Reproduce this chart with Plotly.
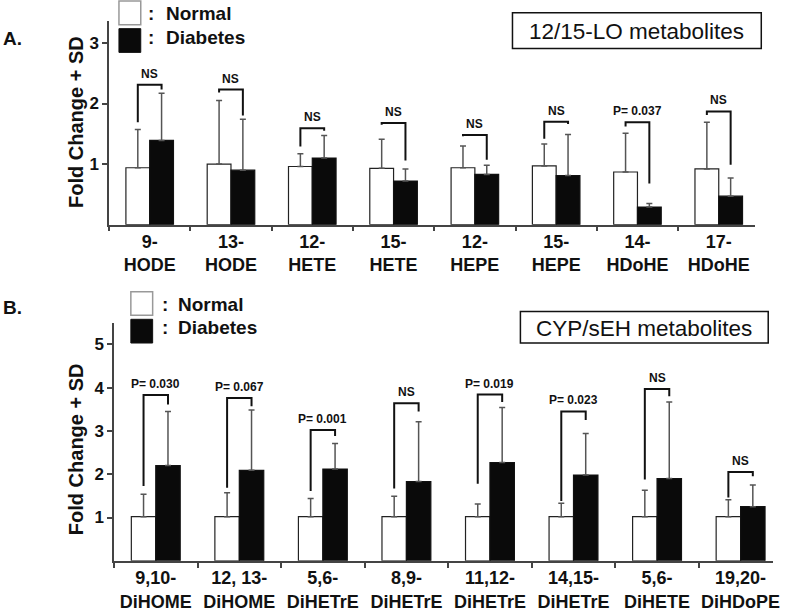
import plotly.graph_objects as go

# ---------------- data ----------------
cats_A = ["9-<br>HODE", "13-<br>HODE", "12-<br>HETE", "15-<br>HETE",
          "12-<br>HEPE", "15-<br>HEPE", "14-<br>HDoHE", "17-<br>HDoHE"]
normal_A = [0.94, 1.00, 0.96, 0.93, 0.94, 0.97, 0.87, 0.92]
normal_A_top = [1.57, 2.05, 1.17, 1.41, 1.30, 1.33, 1.51, 1.69]
diab_A = [1.39, 0.90, 1.10, 0.72, 0.83, 0.81, 0.29, 0.47]
diab_A_top = [2.17, 1.74, 1.47, 0.92, 0.98, 1.49, 0.35, 0.77]
brk_A_top = [2.31, 2.23, 1.59, 1.68, 1.48, 1.70, 1.69, 1.87]
brk_A_left = [1.69, 2.18, 1.29, 1.65, 1.46, 1.42, 1.62, 1.81]
brk_A_right = [2.23, 1.80, 1.55, 1.06, 1.07, 1.66, 0.68, 0.99]
sig_A = ["NS", "NS", "NS", "NS", "NS", "NS", "P= 0.037", "NS"]

cats_B = ["9,10-<br>DiHOME", "12, 13-<br>DiHOME", "5,6-<br>DiHETrE", "8,9-<br>DiHETrE",
          "11,12-<br>DiHETrE", "14,15-<br>DiHETrE", "5,6-<br>DiHETE", "19,20-<br>DiHDoPE"]
normal_B = [1.02, 1.02, 1.02, 1.02, 1.02, 1.02, 1.02, 1.02]
normal_B_top = [1.54, 1.57, 1.44, 1.49, 1.31, 1.33, 1.63, 1.41]
diab_B = [2.20, 2.09, 2.12, 1.83, 2.27, 1.98, 1.90, 1.25]
diab_B_top = [3.45, 3.48, 2.71, 3.21, 3.54, 2.94, 3.67, 1.75]
brk_B_top = [3.83, 3.76, 3.02, 3.64, 3.84, 3.45, 3.97, 2.05]
brk_B_left = [1.73, 1.69, 1.61, 1.67, 1.78, 1.38, 1.88, 1.46]
brk_B_right = [3.61, 3.57, 2.88, 3.45, 3.67, 3.25, 3.80, 1.95]
sig_B = ["P= 0.030", "P= 0.067", "P= 0.001", "NS", "P= 0.019", "P= 0.023", "NS", "NS"]

series_names = ["Normal", "Diabetes"]
yticks_A = [1, 2, 3]
yticks_B = [1, 2, 3, 4, 5]

# ---------------- style ----------------
W, H = 800, 612
FONT = "Liberation Sans, Arial, sans-serif"
BARGAP = 0.415
BW = (1 - BARGAP) / 2
AXC = "#444"
ERRC = "#555"


def px(x):
    return x / W


def py(y):
    return 1 - y / H


fig = go.Figure()


def add_panel(xa, ya, normal, normal_top, diab, diab_top, btop, bleft, bright, sig):
    n = len(normal)
    xs = list(range(n))
    fig.add_trace(go.Bar(
        x=xs, y=normal, name=series_names[0], xaxis=xa, yaxis=ya, offsetgroup="n",
        marker=dict(color="white", line=dict(color="#222", width=1.2)),
        error_y=dict(type="data", symmetric=False,
                     array=[t - v for t, v in zip(normal_top, normal)],
                     arrayminus=[0] * n, color=ERRC, thickness=1.5, width=3),
        showlegend=False, hoverinfo="skip"))
    fig.add_trace(go.Bar(
        x=xs, y=diab, name=series_names[1], xaxis=xa, yaxis=ya, offsetgroup="d",
        marker=dict(color="#0a0a0a", line=dict(color="#111", width=1.2)),
        error_y=dict(type="data", symmetric=False,
                     array=[t - v for t, v in zip(diab_top, diab)],
                     arrayminus=[0] * n, color=ERRC, thickness=1.5, width=3),
        showlegend=False, hoverinfo="skip"))
    bx, by = [], []
    for i in range(n):
        l, r = i - BW / 2, i + BW / 2
        bx += [l, l, r, r, None]
        by += [bleft[i], btop[i], btop[i], bright[i], None]
    fig.add_trace(go.Scatter(x=bx, y=by, xaxis=xa, yaxis=ya, mode="lines",
                             line=dict(color="#111", width=2), showlegend=False,
                             hoverinfo="skip"))
    for i in range(n):
        fig.add_annotation(x=i, y=btop[i], xref=xa, yref=ya, text=sig[i],
                           showarrow=False, yanchor="bottom", yshift=2,
                           font=dict(family=FONT, size=12, color="#111", weight="bold"))


add_panel("x", "y", normal_A, normal_A_top, diab_A, diab_A_top,
          brk_A_top, brk_A_left, brk_A_right, sig_A)
add_panel("x2", "y2", normal_B, normal_B_top, diab_B, diab_B_top,
          brk_B_top, brk_B_left, brk_B_right, sig_B)


def xaxis(domain, rng, labels, anchor):
    n = len(labels)
    return dict(domain=domain, range=rng, anchor=anchor, showline=True,
                linecolor=AXC, linewidth=1.5, showgrid=False, zeroline=False,
                tickmode="array", tickvals=list(range(n)), ticktext=labels,
                ticks="", ticklen=0, ticklabelstandoff=0,
                tickfont=dict(family=FONT, size=18, color="#111", weight="bold"),
                minor=dict(tickmode="array", tickvals=[k - 0.5 for k in range(n + 1)],
                           ticks="outside", ticklen=5, tickwidth=1.5, tickcolor=AXC,
                           showgrid=False),
                fixedrange=True)


def yaxis(domain, rng, vals, anchor):
    return dict(domain=domain, range=rng, anchor=anchor, showline=True,
                linecolor=AXC, linewidth=1.5, showgrid=False, zeroline=False,
                tickmode="array", tickvals=vals, ticks="outside", ticklen=5,
                tickwidth=1.5, tickcolor=AXC,
                tickfont=dict(family=FONT, size=17, color="#111", weight="bold"),
                fixedrange=True)


fig.update_layout(
    width=W, height=H, margin=dict(l=0, r=0, t=0, b=0),
    paper_bgcolor="white", plot_bgcolor="white",
    barmode="group", bargap=BARGAP, bargroupgap=0,
    xaxis=xaxis([px(110), px(762)], [-0.5, 7.45], cats_A, "y"),
    yaxis=yaxis([py(227.3), py(21.7)], [0, 3.354], yticks_A, "x"),
    xaxis2=xaxis([px(115), px(780)], [-0.5, 7.39], cats_B, "y2"),
    yaxis2=yaxis([py(567.3), py(327)], [0, 5.486], yticks_B, "x2"),
)

shapes = []
annos = []


def legend(x0, ytop, colon_x, text_x):
    shapes.append(dict(type="rect", xref="paper", yref="paper",
                       x0=px(x0), x1=px(x0 + 22), y0=py(ytop + 24), y1=py(ytop),
                       fillcolor="white", line=dict(color="#999", width=1.5)))
    shapes.append(dict(type="rect", xref="paper", yref="paper",
                       x0=px(x0), x1=px(x0 + 22), y0=py(ytop + 52), y1=py(ytop + 28),
                       fillcolor="#0a0a0a", line=dict(color="#111", width=1)))
    for k, name in enumerate(series_names):
        yc = ytop + 13 + k * 23.5
        annos.append(dict(x=px(colon_x), y=py(yc), xref="paper", yref="paper",
                          text=":", showarrow=False, xanchor="center", yanchor="middle",
                          font=dict(family=FONT, size=19, color="#111", weight="bold")))
        annos.append(dict(x=px(text_x), y=py(yc), xref="paper", yref="paper",
                          text=name, showarrow=False, xanchor="left", yanchor="middle",
                          font=dict(family=FONT, size=19, color="#111", weight="bold")))


legend(120, 1, 152, 165)
legend(132, 295, 166, 178)


def title_box(x0, x1, y0, y1, text):
    shapes.append(dict(type="rect", xref="paper", yref="paper",
                       x0=px(x0), x1=px(x1), y0=py(y1), y1=py(y0),
                       fillcolor="white", line=dict(color="#111", width=1.5)))
    annos.append(dict(x=px((x0 + x1) / 2), y=py((y0 + y1) / 2 + 1), xref="paper",
                      yref="paper", text=text, showarrow=False, xanchor="center",
                      yanchor="middle",
                      font=dict(family=FONT, size=22.5, color="#111")))


title_box(517, 768, 13, 49, "12/15-LO metabolites")
title_box(525, 775, 315, 347, "CYP/sEH metabolites")

for lbl, yc in [("A.", 39), ("B.", 311)]:
    annos.append(dict(x=px(1), y=py(yc), xref="paper", yref="paper", text=lbl,
                      showarrow=False, xanchor="left", yanchor="middle",
                      font=dict(family=FONT, size=19, color="#111", weight="bold")))

for yc in [123, 454]:
    annos.append(dict(x=px(76), y=py(yc), xref="paper", yref="paper",
                      text="Fold Change + SD", textangle=-90, showarrow=False,
                      xanchor="center", yanchor="middle",
                      font=dict(family=FONT, size=20, color="#111", weight="bold")))

fig.update_layout(shapes=shapes, annotations=list(fig.layout.annotations) + annos)

fig.write_html("out.html", config={"displayModeBar": False},
               post_script="document.body.style.margin='0';")
